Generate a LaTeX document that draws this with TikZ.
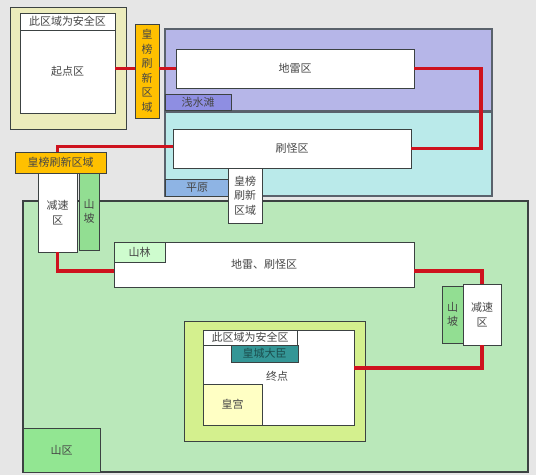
\documentclass[tikz,border=0pt]{standalone}
\usepackage{fontspec}
\newfontfamily\cjk{Noto Sans CJK SC}
\usetikzlibrary{calc}
\definecolor{bgc}{RGB}{230,230,230}
\definecolor{edge}{RGB}{60,66,66}
\definecolor{regedge}{RGB}{90,98,108}
\definecolor{txt}{RGB}{70,70,70}
\definecolor{startfill}{RGB}{236,236,188}
\definecolor{goldc}{RGB}{255,192,0}
\definecolor{purp}{RGB}{182,182,232}
\definecolor{purpdark}{RGB}{142,142,226}
\definecolor{cyanr}{RGB}{186,234,234}
\definecolor{plainc}{RGB}{142,180,228}
\definecolor{greenr}{RGB}{186,232,186}
\definecolor{slope}{RGB}{146,222,146}
\definecolor{forest}{RGB}{206,252,206}
\definecolor{endfill}{RGB}{212,240,142}
\definecolor{teal}{RGB}{52,150,150}
\definecolor{tealtxt}{RGB}{28,78,78}
\definecolor{palace}{RGB}{255,255,196}
\definecolor{mount}{RGB}{146,230,146}
\definecolor{route}{RGB}{206,18,30}
\tikzset{
  box/.style={draw=edge, line width=0.8pt, inner sep=0pt, outer sep=0pt, anchor=north west,
    text=txt, font=\cjk\fontsize{11}{14.5}\selectfont, align=center},
  region/.style={box, draw=regedge, line width=1.4pt},
  path/.style={draw=route, line width=3.2pt},
}
\newcommand\bx[7]{% style, name, x1, y1, x2, y2, text
  \pgfmathsetmacro\bw{#5-#3}\pgfmathsetmacro\bh{#6-#4}%
  \node[#1, minimum width=\bw pt, minimum height=\bh pt] (#2) at (#3,#4) {#7};}
\begin{document}
\begin{tikzpicture}[x=1pt,y=-1pt]
\fill[bgc] (0,0) rectangle (536,475);
\useasboundingbox (0,0) rectangle (536,475);
% big green region
\bx{region, draw=edge, fill=greenr}{green}{23}{201}{528}{472}{}
% start area
\bx{box, fill=startfill}{startouter}{10}{7}{126}{129}{}
\bx{box, fill=white}{startstrip}{20}{13}{115}{30}{此区域为安全区}
\bx{box, fill=white}{startin}{20}{30}{115}{113}{起点区}
\bx{box, fill=goldc}{gold1}{135}{24}{159}{118}{皇\\榜\\刷\\新\\区\\域}
% purple region
\bx{region, fill=purp}{purple}{165}{29}{492}{111}{}
\bx{box, fill=white}{dilei}{176}{49}{414}{88}{地雷区}
\bx{box, fill=purpdark}{qianshui}{165}{94}{231}{110}{浅水滩}
% cyan region
\bx{region, fill=cyanr}{cyan}{165}{112}{492}{196}{}
\bx{box, fill=white}{shuaguai}{173}{129}{411}{168}{刷怪区}
\bx{box, fill=plainc}{pingyuan}{165}{179}{229}{196}{平原}
\bx{box, fill=white}{hbw}{228}{168}{262}{223}{皇榜\\刷新\\区域}
% left column
\bx{box, fill=goldc}{gold2}{15}{152}{106}{173}{皇榜刷新区域}
\bx{box, fill=white}{jiansu1}{38}{173}{77}{252}{减速\\区}
\bx{box, fill=slope}{shanpo1}{79}{173}{99}{250}{山\\坡}
% middle band
\bx{box, fill=white}{dilei2}{114}{242}{414}{287}{地雷、刷怪区}
\bx{box, fill=forest}{shanlin}{114}{242}{165}{262}{山林}
% right column
\bx{box, fill=white}{jiansu2}{463}{284}{501}{345}{减速\\区}
\bx{box, fill=slope}{shanpo2}{442}{286}{463}{343}{山\\坡}
% end area
\bx{box, fill=endfill}{endouter}{184}{321}{365}{441}{}
\bx{box, fill=white}{endin}{203}{330}{354}{425}{}
\node[text=txt, font=\cjk\fontsize{11}{14}\selectfont] (endtxt) at (277,376) {终点};
\bx{box, fill=white}{endstrip}{203}{330}{297}{345}{此区域为安全区}
\bx{box, fill=teal, text=tealtxt}{huangcheng}{231}{345}{298}{362}{皇城大臣}
\bx{box, fill=palace}{huanggong}{203}{384}{262}{425}{皇宫}
\bx{box, fill=mount}{shanqu}{23}{428}{100}{472}{山区}
% route
\draw[path] (startin.east |- dilei.west) -- (gold1.west |- dilei.west);
\draw[path] (gold1.east |- dilei.west) -- (dilei.west);
\draw[path] (dilei.east) -- ++(67,0) |- (shuaguai.east);
\draw[path] ([yshift=2pt]shuaguai.west) -| (jiansu1.north |- gold2.north);
\draw[path] (jiansu1.south) |- ([yshift=-6.5pt]dilei2.west);
\draw[path] ([yshift=-6.5pt]dilei2.east) -| (jiansu2.north);
\draw[path] (jiansu2.south) |- ([yshift=9.5pt]endin.east);
\end{tikzpicture}
\end{document}
